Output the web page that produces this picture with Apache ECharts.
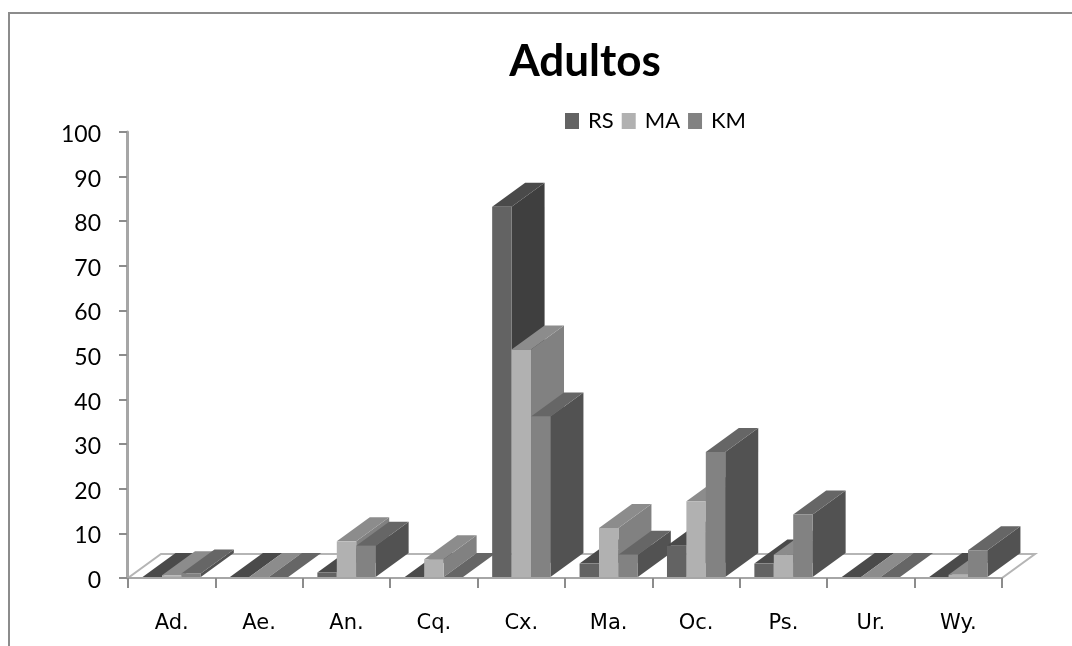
<!DOCTYPE html>
<html><head><meta charset="utf-8">
<style>html,body{margin:0;padding:0;background:#fff}#c{width:1072px;height:646px}</style>
<script src="https://cdn.jsdelivr.net/npm/echarts@6/dist/echarts.min.js"></script>
</head><body><div id="c"></div>
<script>
const categories = ['Ad.','Ae.','An.','Cq.','Cx.','Ma.','Oc.','Ps.','Ur.','Wy.'];
const rs = [0,0,1,0,83,3,7,3,0,0];
const ma = [0.4,0,8,4,51,11,17,5,0,0.5];
const km = [0.8,0,7,0,36,5,28,14,0,6];
const tickValues = [0,100];

const DX = 33, DY = -24;
const shades = [
  {front:'#636363', side:'#3f3f3f', top:'#4a4a4a'},
  {front:'#b1b1b1', side:'#818181', top:'#8c8c8c'},
  {front:'#828282', side:'#525252', top:'#666666'}
];
const poly = (pts, fill, z2) => ({type:'polygon', shape:{points:pts}, style:{fill:fill}, z2:z2});

function barItem(si){
  return function(params, api){
    const ci = api.value(0), v = api.value(1);
    const base = api.coord([ci, 0]);
    const top = api.coord([ci, v]);
    const band = api.size([1,0])[0];
    const w = band/4.5;
    const x0 = base[0] - 1.5*w + si*w, x1 = x0 + w;
    const yb = base[1]-1, yt = top[1]-1;
    const z = 10 + ci*10 + si;
    const s = shades[si];
    return {type:'group', children:[
      poly([[x1,yb],[x1+DX,yb+DY],[x1+DX,yt+DY],[x1,yt]], s.side, z),
      poly([[x0,yt],[x1,yt],[x1+DX,yt+DY],[x0+DX,yt+DY]], s.top, z),
      poly([[x0,yb],[x1,yb],[x1,yt],[x0,yt]], s.front, z)
    ]};
  };
}
function floorItem(params, api){
  const n = categories.length;
  const a = api.coord([0,0]), band = api.size([1,0])[0];
  const x0 = a[0]-band/2, x1 = x0+band*n, y = a[1];
  return {type:'polygon', shape:{points:[[x0,y],[x1,y],[x1+DX,y+DY],[x0+DX,y+DY]]},
    style:{fill:'#fff', stroke:'#b5b5b5', lineWidth:2}, z2:1};
}
const chart = echarts.init(document.getElementById('c'), null, {renderer:'canvas'});
const names = ['RS','MA','KM'];
const vals = [rs,ma,km];
chart.setOption({
  animation:false,
  backgroundColor:'#fff',
  title:{text:'Adultos', left:580, top:35, textAlign:'center',
    textStyle:{fontFamily:'Lato', fontWeight:'bold', fontSize:44, color:'#000'}},
  legend:{data:names, left:560, top:105, icon:'rect', itemWidth:14, itemHeight:16, itemGap:8,
    textStyle:{fontFamily:'Lato', fontSize:22, color:'#000', padding:[4,0,0,4]}},
  grid:{left:128, right:70, top:132, bottom:68, containLabel:false},
  xAxis:{type:'category', data:categories, boundaryGap:true,
    axisLine:{lineStyle:{color:'#a6a6a6', width:2}},
    axisTick:{show:true, length:10, alignWithLabel:false, lineStyle:{color:'#8c8c8c', width:2}},
    axisLabel:{fontFamily:'DejaVu Sans', fontSize:21, color:'#000', margin:35},
    z:5},
  yAxis:{type:'value', min:tickValues[0], max:tickValues[1], interval:10, offset:1,
    axisLine:{show:true, lineStyle:{color:'#a6a6a6', width:3}},
    axisTick:{show:true, length:8, lineStyle:{color:'#8c8c8c', width:2}},
    axisLabel:{fontFamily:'Lato', fontSize:23, color:'#000', margin:26, verticalAlign:'top', lineHeight:5},
    splitLine:{show:false}, z:5},
  series:[
    {type:'custom', name:'floor', data:[[0,0]], renderItem:floorItem, silent:true, encode:{x:0,y:1}, z:1},
    ...names.map((nm,si)=>({
      type:'custom', name:nm, itemStyle:{color:shades[si].front},
      data:vals[si].map((v,i)=>[i,v]), encode:{x:0,y:1}, renderItem:barItem(si), z:2
    }))
  ],
  graphic:[{type:'polyline', silent:true, shape:{points:[[9,646],[9,13],[1072,13]]},
    style:{stroke:'#8c8c8c', lineWidth:2, fill:'none'}}]
});
</script></body></html>
